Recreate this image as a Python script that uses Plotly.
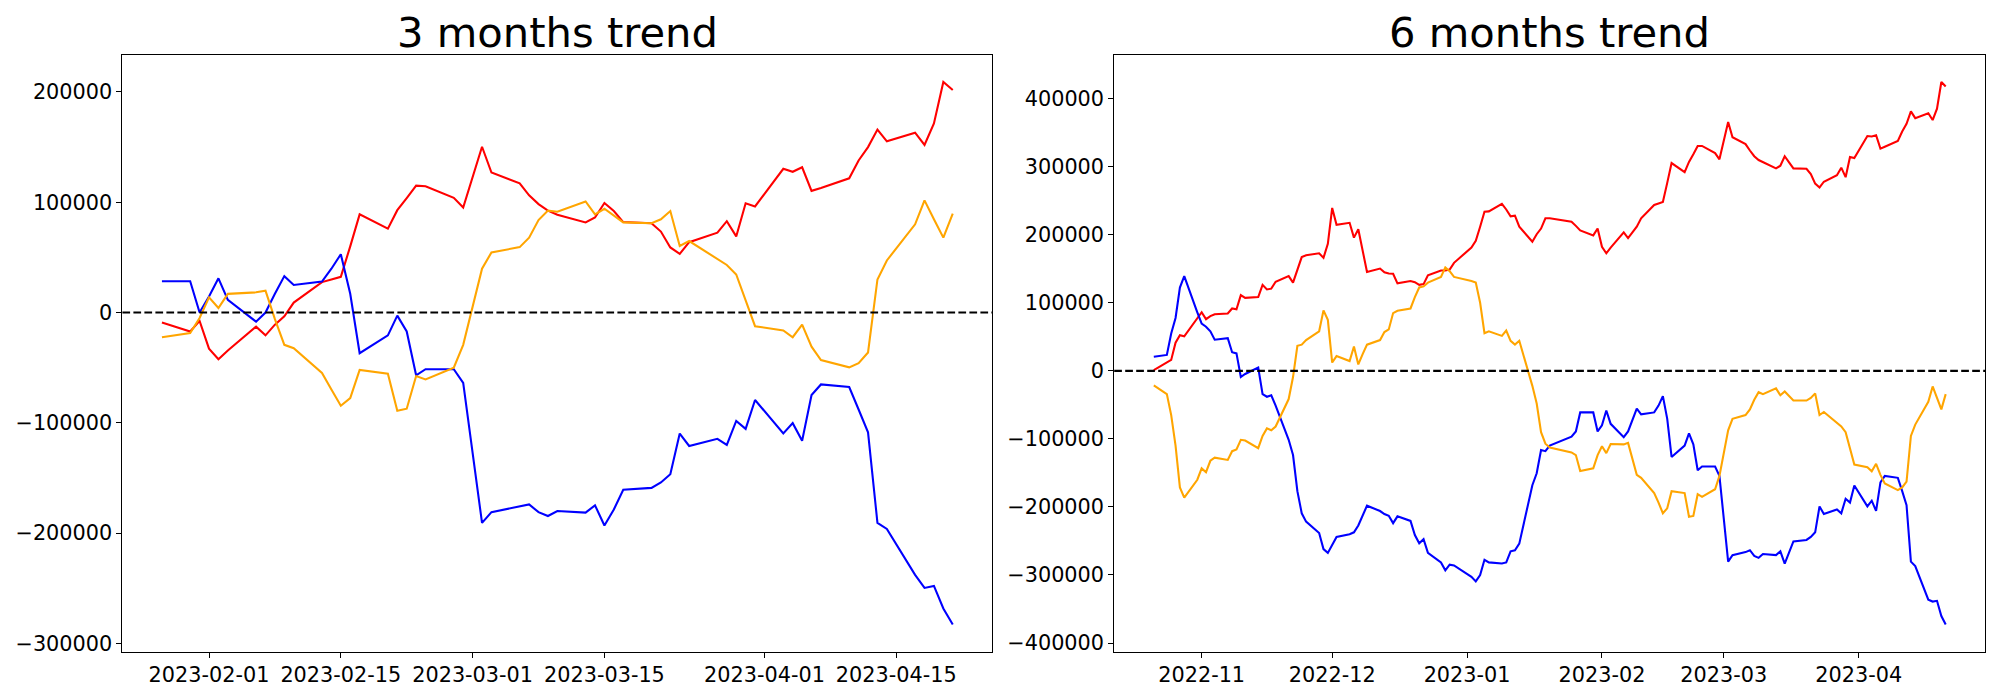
import pandas as pd
import plotly.graph_objects as go

# ---------------- 3 months data (values in thousands) ----------------
dates_3m = [
    "2023-01-27", "2023-01-30", "2023-01-31",
    "2023-02-01", "2023-02-02", "2023-02-03", "2023-02-06", "2023-02-07", "2023-02-08", "2023-02-09",
    "2023-02-10", "2023-02-13", "2023-02-14", "2023-02-15", "2023-02-16", "2023-02-17", "2023-02-20",
    "2023-02-21", "2023-02-22", "2023-02-23", "2023-02-24", "2023-02-27", "2023-02-28",
    "2023-03-02", "2023-03-03", "2023-03-06", "2023-03-07", "2023-03-08", "2023-03-09", "2023-03-10",
    "2023-03-13", "2023-03-14", "2023-03-15", "2023-03-16", "2023-03-17", "2023-03-20", "2023-03-21",
    "2023-03-22", "2023-03-23", "2023-03-24", "2023-03-27", "2023-03-28", "2023-03-29", "2023-03-30",
    "2023-03-31",
    "2023-04-03", "2023-04-04", "2023-04-05", "2023-04-06", "2023-04-07", "2023-04-10", "2023-04-11",
    "2023-04-12", "2023-04-13", "2023-04-14", "2023-04-17", "2023-04-18", "2023-04-19", "2023-04-20",
    "2023-04-21",
]
red_3m = [
    -9, -17.2, -7.6, -32.8, -42.4, -34.5, -12.8, -20.7, -11, -3.4,
    9, 27.6, 30, 32.4, 60, 89, 76, 92.8, 103.8, 115,
    114.5, 104, 95.2, 150.3, 126.9, 117.2, 106.2, 98.3, 92.4, 88.6,
    81.7, 86.2, 99.3, 92, 82, 81, 73.4, 59, 53.1, 63.8,
    72.4, 82.8, 69, 99, 96.2, 130.3, 127.6, 131.7, 110.3, 112.8,
    121.7, 137.9, 150, 165.9, 155.2, 163.1, 152, 171.4, 209, 201.7,
]
blue_3m = [
    28.3, 28.3, 0, 14.5, 31, 11.4, -8.3, 0, 17, 33,
    25, 28, 39.7, 52.8, 17, -36.9, -20.7, -2.8, -17.2, -56.9,
    -51.4, -51.4, -63.8, -190.7, -181, -175.9, -174, -181, -184.5, -180,
    -181.4, -174.8, -193.1, -178.6, -160.7, -159, -154.1, -146.6, -109.7, -121,
    -114.5, -120, -98.3, -105.5, -79.3, -109.7, -100.3, -116.2, -74.8, -65.2,
    -67.6, -87.9, -108.6, -190.7, -196.2, -237.9, -249.7, -247.9, -268.3, -282.8,
]
orange_3m = [
    -22.4, -18.6, -5, 13.8, 4.1, 16.9, 18.3, 19.7, -6, -29.3,
    -32.4, -54.8, -69.7, -84.5, -77.6, -52.1, -55.5, -89, -87.2, -57.6,
    -60.7, -50, -29.3, 39.7, 54.5, 59.3, 67.9, 83.8, 92.4, 91.4,
    100.7, 89, 94.1, 88, 81.7, 81, 84.5, 92, 60.3, 64.8,
    49, 43.1, 34.5, 10.3, -12.4, -16.2, -22.4, -11, -31, -43.1,
    -49.7, -45.9, -36.2, 30, 47.2, 80, 101.7, 84.5, 67.9, 89.7,
]

# ---------------- 6 months data (values in thousands) ----------------
dates_6m = [
    "2022-10-21", "2022-10-24", "2022-10-25", "2022-10-26", "2022-10-27", "2022-10-28", "2022-10-31",
    "2022-11-01", "2022-11-02", "2022-11-03", "2022-11-04", "2022-11-07", "2022-11-08", "2022-11-09",
    "2022-11-10", "2022-11-11", "2022-11-14", "2022-11-15", "2022-11-16", "2022-11-17", "2022-11-18",
    "2022-11-21", "2022-11-22", "2022-11-23", "2022-11-24", "2022-11-25", "2022-11-28", "2022-11-29",
    "2022-11-30",
    "2022-12-01", "2022-12-02", "2022-12-05", "2022-12-06", "2022-12-07", "2022-12-08", "2022-12-09",
    "2022-12-12", "2022-12-13", "2022-12-14", "2022-12-15", "2022-12-16", "2022-12-19", "2022-12-20",
    "2022-12-21", "2022-12-22", "2022-12-23", "2022-12-26", "2022-12-27", "2022-12-28", "2022-12-29",
    "2023-01-02", "2023-01-03", "2023-01-04", "2023-01-05", "2023-01-06", "2023-01-09", "2023-01-10",
    "2023-01-11", "2023-01-12", "2023-01-13", "2023-01-16", "2023-01-17", "2023-01-18", "2023-01-19",
    "2023-01-20", "2023-01-25", "2023-01-26", "2023-01-27", "2023-01-30", "2023-01-31",
    "2023-02-01", "2023-02-02", "2023-02-03", "2023-02-06", "2023-02-07", "2023-02-08", "2023-02-09",
    "2023-02-10", "2023-02-13", "2023-02-14", "2023-02-15", "2023-02-16", "2023-02-17", "2023-02-20",
    "2023-02-21", "2023-02-22", "2023-02-23", "2023-02-24", "2023-02-27", "2023-02-28",
    "2023-03-02", "2023-03-03", "2023-03-06", "2023-03-07", "2023-03-08", "2023-03-09", "2023-03-10",
    "2023-03-13", "2023-03-14", "2023-03-15", "2023-03-16", "2023-03-17", "2023-03-20", "2023-03-21",
    "2023-03-22", "2023-03-23", "2023-03-24", "2023-03-27", "2023-03-28", "2023-03-29", "2023-03-30",
    "2023-03-31",
    "2023-04-03", "2023-04-04", "2023-04-05", "2023-04-06", "2023-04-07", "2023-04-10", "2023-04-11",
    "2023-04-12", "2023-04-13", "2023-04-14", "2023-04-17", "2023-04-18", "2023-04-19", "2023-04-20",
    "2023-04-21",
]
red_6m = [
    1.1, 12.3, 16.2, 41.4, 52.6, 50.9, 76.1,
    86.2, 76.1, 80.6, 83.4, 84.5, 91.8, 90.7, 111.4, 107.4, 108.6, 126.5, 119.8, 120.9, 131,
    139.3, 129.8, 147.7, 167.3, 170.1, 172.9, 166.2, 186.9,
    239.5, 214.9, 217.7, 195.9, 208.2, 175.7, 145.5, 150.5, 144.9, 143.3, 142.7, 128.7, 132.1, 130.4,
    126.5, 127.6, 140.5, 147.7, 147.7, 148.9, 158.9,
    181.3, 191.4, 212, 233.9, 234.5, 245.7, 237.3, 227.2, 228.3, 212.1, 190, 200.9, 209.3, 224.4,
    224.4, 219.4, 213.2, 206.5, 199.2, 209.3,
    182.4, 172.9, 181.3, 203.7, 195.3, 203.7, 212.1, 224.4, 244, 246.2, 248.5, 276.4, 305.5, 292.1,
    307.2, 318.4, 330.7, 330.7, 320.1, 311.1,
    366, 343.6, 333.5, 324, 315.6, 310, 306.7, 297.7, 301.6, 315.6, 306.7, 297.7, 297.1, 289.3,
    275.3, 269.7, 278.1, 287.6, 298.8, 284.8, 314.5, 312.8,
    345.3, 344.7, 346.4, 326.8, 329.6, 338, 352, 363.2, 381.6, 371.6, 378.8, 368.8, 385.6, 424.7, 418,
]
blue_6m = [
    20.7, 23.5, 55, 77.8, 122.5, 139.3, 86,
    69.4, 65, 58.2, 45.9, 48.1, 27.4, 25.7, -9, -4.5, 5, -34.1, -38, -35.8, -50.9,
    -101.3, -123.7, -176.8, -209.3, -221.6, -238.4, -261.9, -267.5,
    -255, -244, -240, -237.3, -227.2, -211.5, -198.1, -206, -210.4, -213, -223.8, -213.8, -220.5, -241.2,
    -253.5, -247.3, -267.5, -281.5, -293.2, -284.8, -286,
    -302.7, -309.5, -300, -277.6, -281.5, -283.2, -281.5, -265.2, -263.6, -254, -168, -150.5, -116.4, -118,
    -109.7, -96.8, -89, -61, -61, -89,
    -80, -58.2, -77.8, -97.4, -89, -72.2, -55.4, -63.8, -61, -51, -37, -70.5, -126.5, -109.7,
    -91.8, -108, -146, -140.5, -140.5, -154.4,
    -280.4, -270.8, -266.4, -263.6, -272, -274.8, -269.2, -270.8, -265.2, -283.2, -266.4, -250.7, -248.5, -244,
    -237.3, -199.2, -210.4, -203.7, -209.3, -188, -193.6, -168.4,
    -199.2, -190.8, -205.9, -164, -154.4, -157.2, -176.8, -197.5, -280.4, -287, -336.3, -339.1, -338, -360.4, -372.7,
]
orange_6m = [
    -21.3, -34.1, -64.9, -109.7, -171.2, -186.3, -160,
    -143.3, -148.9, -132.1, -127.6, -130.9, -118, -115.3, -101.3, -102.4, -113.6, -95.7, -84.5, -87.3, -81.7,
    -41.4, -9, 36.9, 38.6, 45.3, 58.2, 89, 75,
    12.3, 21.8, 14.5, 35.8, 9.5, 24.6, 38.6, 45.3, 57.1, 61, 85, 88.4, 91.8, 108.6,
    122.6, 124.2, 129.8, 138.2, 152.2, 146.6, 138.2,
    132.1, 129.8, 100.2, 55.4, 58.2, 51.5, 59.3, 44.2, 38.6, 44.2, -22, -48, -90, -107,
    -112.5, -119.8, -123.7, -147.2, -143.3, -123.7,
    -110.8, -120.9, -107.4, -108, -105.8, -129.3, -152.8, -157.2, -179.6, -193.6, -209.3, -202, -176.8, -179.6,
    -214.3, -213.2, -181.3, -185.2, -174, -154.4,
    -87.3, -70.5, -64.9, -56.5, -42.5, -31.3, -34.1, -25.7, -35.8, -30.2, -36.9, -43.6, -43.6, -39.7,
    -33, -64.9, -60.4, -76.1, -81.7, -90.1, -114.2, -137.7,
    -141.6, -147.7, -136.5, -152.8, -165.6, -175.2, -171.2, -162.8, -95.7, -78.9, -45.3, -22.9, -39.7, -56.5, -34.1,
]

# ---------------- ticks ----------------
xticks_3m = ["2023-02-01", "2023-02-15", "2023-03-01", "2023-03-15", "2023-04-01", "2023-04-15"]
xticks_6m = ["2022-11-01", "2022-12-01", "2023-01-01", "2023-02-01", "2023-03-01", "2023-04-01"]
xticklabels_6m = ["2022-11", "2022-12", "2023-01", "2023-02", "2023-03", "2023-04"]
yticks_3m = [200000, 100000, 0, -100000, -200000, -300000]
yticks_6m = [400000, 300000, 200000, 100000, 0, -100000, -200000, -300000, -400000]

titles = ["3 months trend", "6 months trend"]
colors = {"red": "#FF0000", "blue": "#0000FF", "orange": "#FFA500"}

FONT = "DejaVu Sans, Verdana, sans-serif"
W, H = 2000, 700
LW = 2.08


def k(vals):
    return [v * 1000 for v in vals]


def fmt(v):
    s = str(abs(int(v)))
    return ("\u2212" + s) if v < 0 else s


def xrange_for(dates):
    d = pd.to_datetime(dates)
    span = d.max() - d.min()
    return [(d.min() - 0.05 * span).strftime("%Y-%m-%d %H:%M:%S"),
            (d.max() + 0.05 * span).strftime("%Y-%m-%d %H:%M:%S")]


def yrange_for(*series):
    allv = [v for s in series for v in s]
    lo, hi = min(allv), max(allv)
    pad = 0.05 * (hi - lo)
    return [lo - pad, hi + pad]


fig = go.Figure()

panels = [
    ("x", "y", dates_3m, red_3m, blue_3m, orange_3m),
    ("x2", "y2", dates_6m, red_6m, blue_6m, orange_6m),
]
for xa, ya, dts, r, b, o in panels:
    for name, vals in (("red", r), ("blue", b), ("orange", o)):
        fig.add_trace(go.Scatter(
            x=dts, y=k(vals), mode="lines", xaxis=xa, yaxis=ya,
            line=dict(color=colors[name], width=LW), showlegend=False,
            hoverinfo="skip",
        ))

# axes geometry (matplotlib-like layout, in pixels)
L1, R1 = 122.4, 992.3
L2, R2 = 1114.2, 1985.3
TOP, BOT = 55.2, 655.3
ydom = [1 - BOT / H, 1 - TOP / H]

common_axis = dict(
    showgrid=False, zeroline=False, showline=True, linecolor="black", linewidth=1.1,
    mirror=True, ticks="outside", ticklen=4.9, tickwidth=1.1, tickcolor="black",
    tickfont=dict(family=FONT, size=20.8, color="black"),
)

fig.update_layout(
    width=W, height=H,
    margin=dict(l=0, r=0, t=0, b=0),
    paper_bgcolor="white", plot_bgcolor="white",
    showlegend=False,
    xaxis=dict(domain=[L1 / W, R1 / W], anchor="y", type="date",
               range=xrange_for(dates_3m), tickmode="array",
               tickvals=xticks_3m, ticktext=xticks_3m, **common_axis),
    yaxis=dict(domain=ydom, anchor="x",
               range=yrange_for(k(red_3m), k(blue_3m), k(orange_3m)),
               tickmode="array", tickvals=yticks_3m,
               ticktext=[fmt(v) for v in yticks_3m], **common_axis),
    xaxis2=dict(domain=[L2 / W, R2 / W], anchor="y2", type="date",
                range=xrange_for(dates_6m), tickmode="array",
                tickvals=xticks_6m, ticktext=xticklabels_6m, **common_axis),
    yaxis2=dict(domain=ydom, anchor="x2",
                range=yrange_for(k(red_6m), k(blue_6m), k(orange_6m)),
                tickmode="array", tickvals=yticks_6m,
                ticktext=[fmt(v) for v in yticks_6m], **common_axis),
)

# dashed zero lines
for xd, ya in (("x domain", "y"), ("x2 domain", "y2")):
    fig.add_shape(type="line", xref=xd, yref=ya, x0=0, x1=1, y0=0, y1=0,
                  line=dict(color="black", width=LW, dash="7.7px,3.3px"), layer="above")

# titles
for (l, r), t in zip(((L1, R1), (L2, R2)), titles):
    fig.add_annotation(text=t, xref="paper", yref="paper",
                       x=(l + r) / 2 / W, y=1 - 32.5 / H, xanchor="center", yanchor="middle",
                       showarrow=False, font=dict(family=FONT, size=41.67, color="black"))

fig.write_html("out.html", config={"displayModeBar": False},
               post_script="document.body.style.margin='0';document.body.style.overflow='hidden';")
